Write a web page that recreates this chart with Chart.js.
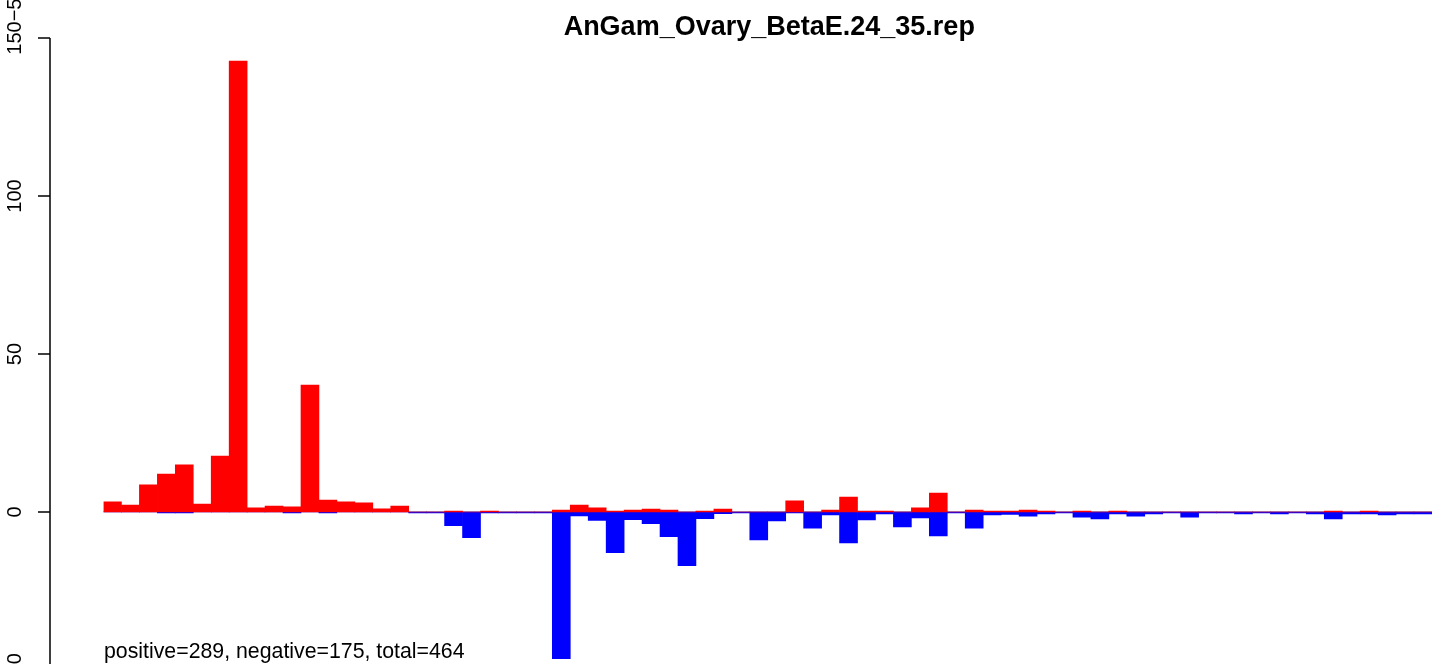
<!DOCTYPE html>
<html>
<head>
<meta charset="utf-8">
<title>AnGam_Ovary_BetaE.24_35.rep</title>
<script src="https://cdn.jsdelivr.net/npm/chart.js@4/dist/chart.umd.min.js"></script>
<style>
    html, body { margin: 0; padding: 0; background: #ffffff; }
    #wrap { width: 1441px; height: 664px; position: relative; }
</style>
</head>
<body>
<div id="wrap"><canvas id="repChart" width="1441" height="664"></canvas></div>
<script>
// chart texts
const chartTitle = 'AnGam_Ovary_BetaE.24_35.rep';
const countsNote = 'positive=289, negative=175, total=464';

// one bin per position (74 bins, no visible x labels)
const binLabels = [
    '1','2','3','4','5','6','7','8','9','10','11','12','13','14','15','16','17','18','19','20',
    '21','22','23','24','25','26','27','28','29','30','31','32','33','34','35','36','37','38','39','40',
    '41','42','43','44','45','46','47','48','49','50','51','52','53','54','55','56','57','58','59','60',
    '61','62','63','64','65','66','67','68','69','70','71','72','73','74'
];

// positive strand (red)
const positiveValues = [
    3.2, 2.2, 8.6, 12.0, 14.9, 2.5, 17.7, 142.7, 1.3, 1.9,
    1.6, 40.2, 3.8, 3.2, 2.9, 1.0, 1.9, 0, 0, 0.3,
    0, 0.3, 0, 0, 0, 0.6, 2.2, 1.3, 0.3, 0.6,
    0.9, 0.6, 0, 0.3, 0.9, 0, 0, 0, 3.5, 0,
    0.6, 4.7, 0.3, 0.3, 0, 1.3, 6.0, 0, 0.6, 0.3,
    0.3, 0.6, 0.3, 0, 0.3, 0, 0.3, 0, 0, 0,
    0, 0, 0, 0, 0, 0, 0, 0, 0.3, 0,
    0.3, 0, 0, 0
];

// negative strand (blue)
const negativeValues = [
    0, 0, 0, -0.3, -0.3, 0, 0, 0, 0, 0,
    -0.3, 0, -0.3, 0, 0, 0, 0, -0.3, -0.3, -4.3,
    -8.1, -0.3, -0.3, -0.3, -0.3, -46.4, -1.2, -2.7, -12.9, -2.4,
    -3.7, -7.8, -17.0, -2.1, -0.5, -0.3, -8.8, -2.8, -0.3, -5.1,
    -0.9, -9.8, -2.5, -0.6, -4.7, -1.9, -7.6, -0.3, -5.1, -0.9,
    -0.8, -1.3, -0.6, -0.3, -1.6, -2.2, -0.6, -1.3, -0.6, -0.3,
    -1.6, -0.3, -0.3, -0.6, -0.3, -0.6, -0.3, -0.6, -2.2, -0.6,
    -0.6, -0.9, -0.6, -0.6
];

// y axis ticks
const yTickValues = [150, 100, 50, 0, -50];
const yTickLabels = ['150', '100', '50', '0', '\u221250'];

(function() {
    const FONT = '"Liberation Sans", Arial, Helvetica, sans-serif';

    /**
     * Draws the R-style axis, baseline, title and note
     */
    const rStylePlugin = {
        id: 'rStyle',

        beforeDatasetsDraw(chart) {
            const { ctx, chartArea, scales } = chart;
            const y0 = scales.y.getPixelForValue(0);
            ctx.save();
            ctx.strokeStyle = '#bebebe';
            ctx.lineWidth = 1;
            ctx.beginPath();
            ctx.moveTo(chartArea.left, y0 - 0.5);
            ctx.lineTo(chartArea.right, y0 - 0.5);
            ctx.stroke();
            ctx.restore();
        },

        afterDraw(chart) {
            const { ctx, chartArea, scales } = chart;
            const yScale = scales.y;
            const axisX = 50;

            ctx.save();

            // axis line + ticks
            ctx.strokeStyle = '#000000';
            ctx.lineWidth = 1.5;
            ctx.beginPath();
            ctx.moveTo(axisX, yScale.getPixelForValue(yTickValues[0]));
            ctx.lineTo(axisX, yScale.getPixelForValue(yTickValues[yTickValues.length - 1]));
            yTickValues.forEach(v => {
                const py = yScale.getPixelForValue(v);
                ctx.moveTo(axisX - 12, py);
                ctx.lineTo(axisX, py);
            });
            ctx.stroke();

            // rotated tick labels
            ctx.fillStyle = '#000000';
            ctx.font = '20px ' + FONT;
            yTickValues.forEach((v, i) => {
                const py = yScale.getPixelForValue(v);
                ctx.save();
                ctx.translate(15, py);
                ctx.rotate(-Math.PI / 2);
                ctx.textAlign = 'center';
                ctx.textBaseline = 'middle';
                ctx.fillText(yTickLabels[i], 0, 0);
                // the bottom label also spills over the top one in the original
                if (i === 0) {
                    const w = ctx.measureText(yTickLabels[0]).width;
                    ctx.textAlign = 'left';
                    ctx.fillText(yTickLabels[yTickLabels.length - 1], w / 2, 0);
                }
                ctx.restore();
            });

            // title
            ctx.font = 'bold 27px ' + FONT;
            ctx.textAlign = 'center';
            ctx.textBaseline = 'alphabetic';
            ctx.fillText(chartTitle, (chartArea.left + chartArea.right) / 2 + 1.5, 35);

            // counts note
            ctx.font = '21.3px ' + FONT;
            ctx.textAlign = 'left';
            ctx.textBaseline = 'alphabetic';
            ctx.fillText(countsNote, 104, 658);

            ctx.restore();
        }
    };

    const ctx = document.getElementById('repChart');
    new Chart(ctx, {
        type: 'bar',
        data: {
            labels: binLabels,
            datasets: [
                {
                    label: 'positive',
                    data: positiveValues,
                    backgroundColor: '#ff0000',
                    borderWidth: 0,
                    barPercentage: 1,
                    categoryPercentage: 1,
                    grouped: false
                },
                {
                    label: 'negative',
                    data: negativeValues,
                    backgroundColor: '#0000ff',
                    borderWidth: 0,
                    barPercentage: 1,
                    categoryPercentage: 1,
                    grouped: false
                }
            ]
        },
        options: {
            responsive: false,
            maintainAspectRatio: false,
            animation: false,
            devicePixelRatio: 1,
            layout: {
                padding: { left: 103.5, right: 9, top: 38, bottom: 0 }
            },
            plugins: {
                legend: { display: false },
                tooltip: { enabled: false },
                title: { display: false }
            },
            scales: {
                x: { display: false },
                y: { display: false, min: -48.1, max: 150 }
            }
        },
        plugins: [rStylePlugin]
    });
})();
</script>
</body>
</html>
